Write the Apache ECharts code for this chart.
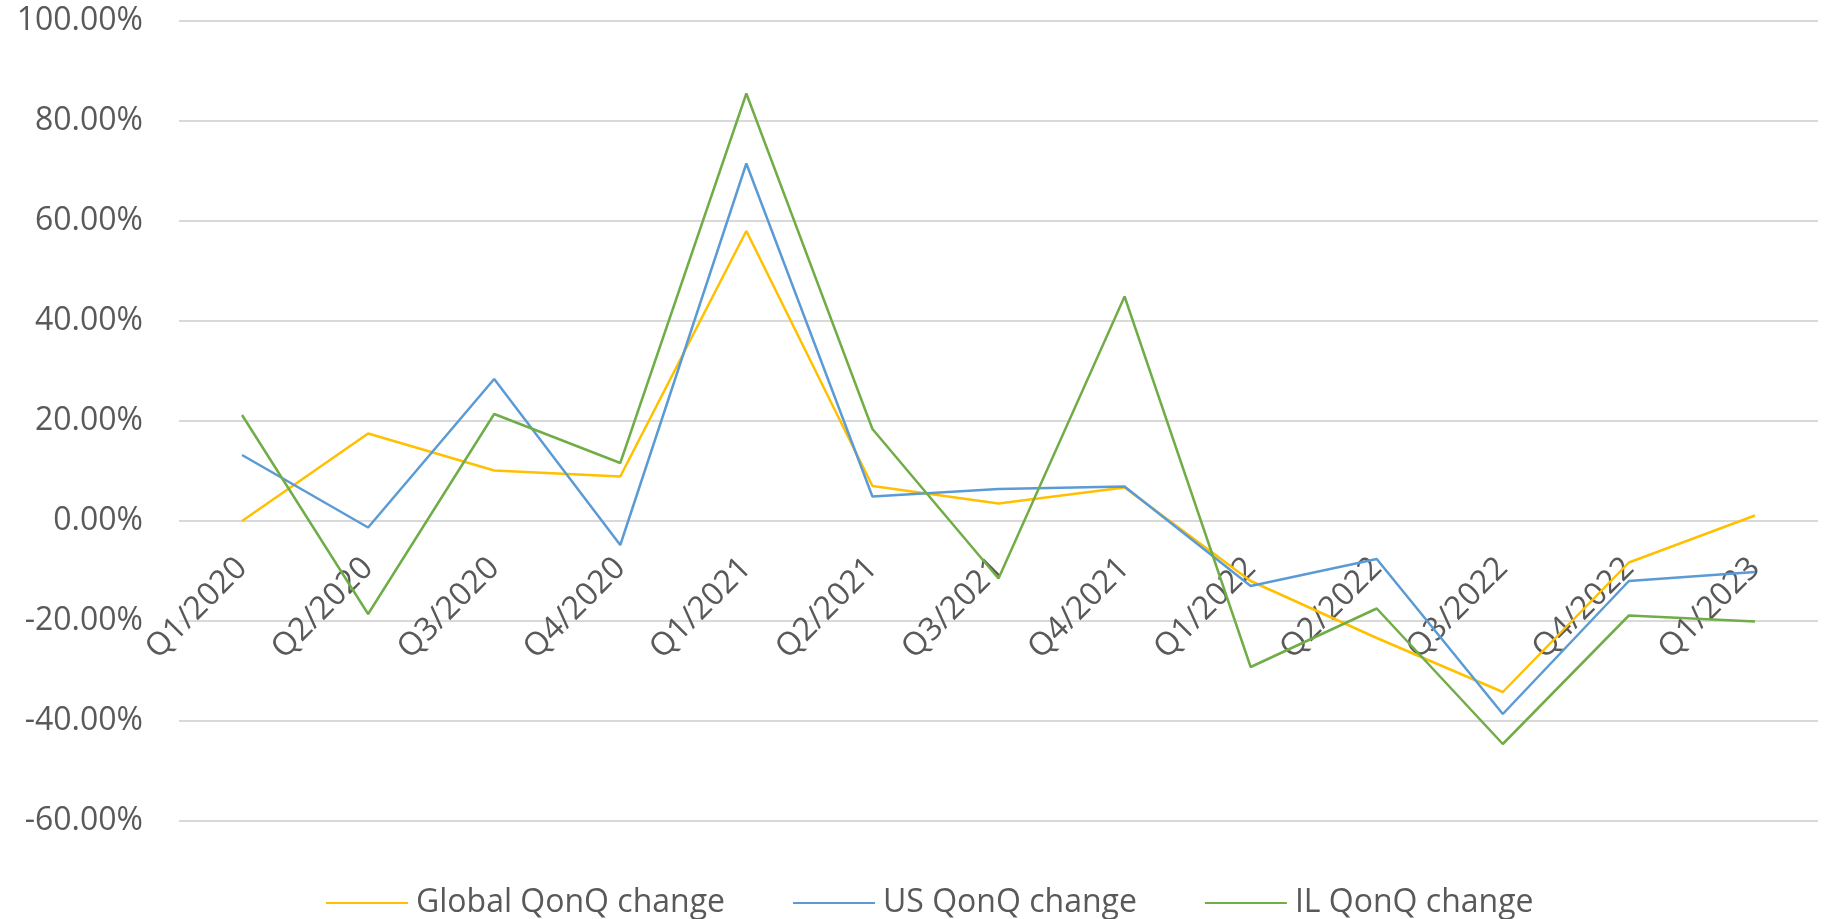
<!DOCTYPE html>
<html>
<head>
<meta charset="utf-8">
<title>QonQ change</title>
<script src="https://cdn.jsdelivr.net/npm/echarts@6/dist/echarts.min.js"></script>
<style>
    html, body {
        margin: 0;
        padding: 0;
        background: #fff;
    }
    #chart {
        width: 1828px;
        height: 919px;
    }
</style>
</head>
<body>
<div id="chart"></div>
<script>
// quarters on the x axis
const quarters = ['Q1/2020', 'Q2/2020', 'Q3/2020', 'Q4/2020', 'Q1/2021', 'Q2/2021', 'Q3/2021',
    'Q4/2021', 'Q1/2022', 'Q2/2022', 'Q3/2022', 'Q4/2022', 'Q1/2023']

// values in percent
const globalChange = [0, 17.5, 10.1, 8.9, 58.0, 7.0, 3.5, 6.7, -12.0, -23.4, -34.2, -8.3, 1.1]
const usChange = [13.2, -1.3, 28.4, -4.8, 71.5, 4.9, 6.4, 6.9, -13.0, -7.6, -38.6, -12.0, -10.2]
const ilChange = [21.2, -18.6, 21.4, 11.6, 85.5, 18.4, -11.5, 44.9, -29.2, -17.5, -44.6, -18.9, -20.1]

const yTicks = { min: -60, max: 100, step: 20 }

const textColor = '#595959'
const gridColor = '#D9D9D9'
const font = '"Open Sans", "Noto Sans", sans-serif'

const gridTop = 21
const gridBottom = 98
const plotHeight = 919 - gridTop - gridBottom
// category labels hang from the 0% line, not from the bottom of the plot
const zeroOffset = plotHeight * (0 - yTicks.min) / (yTicks.max - yTicks.min)

const chart = echarts.init(document.getElementById('chart'))

function lineSeries(name, data, color) {
    return {
        name: name,
        type: 'line',
        data: data,
        symbol: 'none',
        smooth: false,
        lineStyle: { color: color, width: 2.5 },
        itemStyle: { color: color },
        emphasis: { disabled: true }
    }
}

const option = {
    animation: false,
    textStyle: { fontFamily: font },
    grid: {
        left: 179,
        right: 10,
        top: gridTop,
        bottom: gridBottom,
        containLabel: false,
        outerBoundsMode: 'none'
    },
    legend: {
        left: 326,
        top: 887,
        padding: 0,
        itemWidth: 82,
        itemHeight: 14,
        itemGap: 68,
        icon: 'path://M0,6 L82,6 L82,8 L0,8 Z',
        textStyle: { color: textColor, fontSize: 32, fontFamily: font, padding: [0, 0, 0, 3] },
        data: ['Global QonQ change', 'US QonQ change', 'IL QonQ change']
    },
    xAxis: {
        type: 'category',
        data: quarters,
        boundaryGap: true,
        position: 'bottom',
        offset: -zeroOffset,
        axisLine: { show: false, onZero: false },
        axisTick: { show: false },
        axisLabel: {
            rotate: 45,
            margin: 42,
            interval: 0,
            color: textColor,
            fontSize: 32,
            fontFamily: font
        },
        splitLine: { show: false }
    },
    yAxis: {
        type: 'value',
        min: yTicks.min,
        max: yTicks.max,
        interval: yTicks.step,
        axisLine: { show: false },
        axisTick: { show: false },
        axisLabel: {
            margin: 36,
            color: textColor,
            fontSize: 32,
            fontFamily: font,
            formatter: (v) => v.toFixed(2) + '%'
        },
        splitLine: { lineStyle: { color: gridColor, width: 2 } }
    },
    series: [
        lineSeries('Global QonQ change', globalChange, '#FFC000'),
        lineSeries('US QonQ change', usChange, '#5B9BD5'),
        lineSeries('IL QonQ change', ilChange, '#70AD47')
    ]
}

chart.setOption(option)
</script>
</body>
</html>
